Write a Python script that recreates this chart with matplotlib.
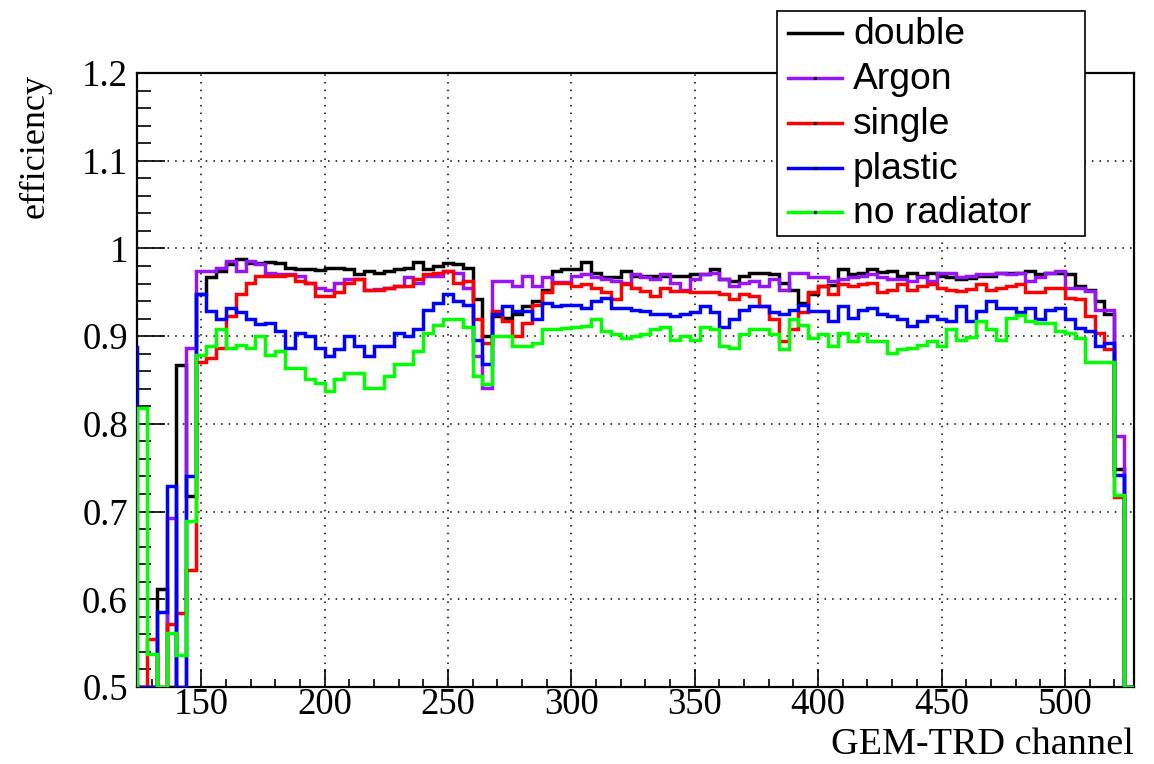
import numpy as np
import matplotlib
matplotlib.use("Agg")
import matplotlib.pyplot as plt
from matplotlib.ticker import MultipleLocator, FuncFormatter
from matplotlib.lines import Line2D
from matplotlib.patches import Rectangle

# bin edges of the GEM-TRD channel histogram (4 channels per bin)
edges = np.arange(120, 529, 4)

labels = ["double", "Argon", "single", "plastic", "no radiator"]
colors = ["#000000", "#9614f5", "#ff0000", "#0000ff", "#00ff00"]

double = [0.5,
    0.5, 0.5, 0.612, 0.5, 0.867, 0.718, 0.948, 0.967, 0.974, 0.982,
    0.988, 0.983, 0.983, 0.984, 0.983, 0.978, 0.977, 0.977, 0.975, 0.978,
    0.978, 0.976, 0.971, 0.974, 0.972, 0.974, 0.976, 0.978, 0.984, 0.976,
    0.980, 0.983, 0.982, 0.978, 0.942, 0.900, 0.923, 0.921, 0.925, 0.934,
    0.940, 0.953, 0.974, 0.977, 0.977, 0.985, 0.972, 0.967, 0.967, 0.974,
    0.968, 0.968, 0.968, 0.968, 0.969, 0.969, 0.971, 0.971, 0.977, 0.965,
    0.963, 0.969, 0.972, 0.972, 0.971, 0.961, 0.953, 0.938, 0.948, 0.957,
    0.958, 0.976, 0.971, 0.972, 0.976, 0.973, 0.974, 0.969, 0.972, 0.969,
    0.972, 0.969, 0.967, 0.965, 0.966, 0.969, 0.969, 0.972, 0.972, 0.972,
    0.974, 0.971, 0.972, 0.972, 0.971, 0.957, 0.953, 0.940, 0.925, 0.748,
    0.5]

argon = [0.5,
    0.5, 0.5, 0.5, 0.693, 0.5, 0.887, 0.974, 0.974, 0.978, 0.986,
    0.974, 0.986, 0.982, 0.972, 0.971, 0.971, 0.968, 0.961, 0.955, 0.953,
    0.961, 0.965, 0.965, 0.953, 0.954, 0.955, 0.957, 0.967, 0.961, 0.969,
    0.969, 0.974, 0.972, 0.955, 0.877, 0.841, 0.963, 0.963, 0.957, 0.969,
    0.957, 0.967, 0.962, 0.962, 0.969, 0.971, 0.967, 0.965, 0.963, 0.961,
    0.971, 0.967, 0.965, 0.971, 0.961, 0.953, 0.965, 0.971, 0.972, 0.965,
    0.957, 0.961, 0.963, 0.957, 0.965, 0.953, 0.972, 0.972, 0.967, 0.967,
    0.963, 0.965, 0.967, 0.969, 0.971, 0.967, 0.965, 0.965, 0.963, 0.967,
    0.963, 0.972, 0.972, 0.967, 0.968, 0.971, 0.971, 0.972, 0.971, 0.972,
    0.963, 0.967, 0.972, 0.974, 0.955, 0.955, 0.951, 0.930, 0.930, 0.786,
    0.5]

single = [0.5,
    0.5, 0.555, 0.5, 0.572, 0.584, 0.633, 0.870, 0.875, 0.887, 0.923,
    0.948, 0.961, 0.968, 0.968, 0.968, 0.970, 0.963, 0.961, 0.946, 0.946,
    0.950, 0.961, 0.965, 0.953, 0.953, 0.955, 0.957, 0.957, 0.965, 0.971,
    0.972, 0.974, 0.961, 0.963, 0.919, 0.892, 0.929, 0.917, 0.900, 0.915,
    0.936, 0.950, 0.961, 0.961, 0.957, 0.959, 0.955, 0.950, 0.942, 0.959,
    0.955, 0.951, 0.946, 0.955, 0.951, 0.951, 0.950, 0.950, 0.950, 0.948,
    0.942, 0.948, 0.946, 0.934, 0.919, 0.894, 0.908, 0.927, 0.950, 0.957,
    0.948, 0.959, 0.957, 0.959, 0.961, 0.950, 0.953, 0.959, 0.953, 0.957,
    0.959, 0.955, 0.953, 0.952, 0.954, 0.959, 0.953, 0.955, 0.957, 0.959,
    0.950, 0.950, 0.955, 0.955, 0.944, 0.942, 0.923, 0.904, 0.885, 0.717,
    0.5]

plastic = [0.888,
    0.5, 0.5, 0.585, 0.729, 0.5, 0.740, 0.948, 0.929, 0.919, 0.932,
    0.927, 0.919, 0.914, 0.915, 0.906, 0.887, 0.904, 0.900, 0.887, 0.877,
    0.885, 0.900, 0.889, 0.877, 0.889, 0.889, 0.904, 0.900, 0.908, 0.930,
    0.938, 0.948, 0.940, 0.936, 0.896, 0.868, 0.925, 0.934, 0.929, 0.929,
    0.919, 0.938, 0.934, 0.936, 0.936, 0.932, 0.940, 0.944, 0.932, 0.932,
    0.930, 0.929, 0.925, 0.925, 0.923, 0.925, 0.927, 0.934, 0.927, 0.910,
    0.919, 0.930, 0.934, 0.934, 0.927, 0.925, 0.930, 0.936, 0.929, 0.929,
    0.917, 0.934, 0.921, 0.930, 0.932, 0.925, 0.923, 0.919, 0.911, 0.917,
    0.923, 0.919, 0.917, 0.934, 0.917, 0.929, 0.940, 0.932, 0.932, 0.927,
    0.932, 0.919, 0.930, 0.932, 0.919, 0.909, 0.906, 0.889, 0.892, 0.742,
    0.5]

no_radiator = [0.5,
    0.818, 0.538, 0.5, 0.562, 0.536, 0.689, 0.879, 0.889, 0.908, 0.887,
    0.890, 0.887, 0.900, 0.879, 0.883, 0.864, 0.864, 0.851, 0.847, 0.837,
    0.851, 0.858, 0.858, 0.841, 0.841, 0.854, 0.868, 0.868, 0.883, 0.904,
    0.913, 0.919, 0.919, 0.910, 0.854, 0.845, 0.900, 0.900, 0.889, 0.889,
    0.892, 0.908, 0.908, 0.909, 0.910, 0.911, 0.919, 0.906, 0.902, 0.898,
    0.900, 0.902, 0.908, 0.910, 0.896, 0.900, 0.896, 0.910, 0.908, 0.889,
    0.887, 0.902, 0.908, 0.908, 0.902, 0.885, 0.919, 0.913, 0.898, 0.902,
    0.889, 0.904, 0.894, 0.902, 0.894, 0.894, 0.881, 0.885, 0.887, 0.890,
    0.894, 0.889, 0.908, 0.896, 0.899, 0.917, 0.908, 0.896, 0.921, 0.924,
    0.917, 0.915, 0.915, 0.906, 0.904, 0.898, 0.871, 0.871, 0.870, 0.719,
    0.5]

series = [double, argon, single, plastic, no_radiator]

W, H = 1154, 764
fig = plt.figure(figsize=(W / 100, H / 100), dpi=100)
ax = fig.add_axes([137 / W, 1 - 687 / H, (1134 - 137) / W, (687 - 73) / H])

LW = 2.5
for vals, col in zip(series, colors):
    assert len(vals) == len(edges) - 1
    ax.stairs(vals, edges, color=col, linewidth=LW, baseline=None, zorder=3)

ax.set_xlim(124, 528)
ax.set_ylim(0.5, 1.2)

ax.xaxis.set_major_locator(MultipleLocator(50))
ax.xaxis.set_minor_locator(MultipleLocator(10))
ax.yaxis.set_major_locator(MultipleLocator(0.1))
ax.yaxis.set_minor_locator(MultipleLocator(0.02))
ax.tick_params(which="both", direction="in", top=False, right=False, color="black")
ax.tick_params(axis="x", which="major", length=13, width=1.2, pad=0.5)
ax.tick_params(axis="x", which="minor", length=6, width=1.2)
ax.tick_params(axis="y", which="major", length=20, width=1.2, pad=6.5)
ax.tick_params(axis="y", which="minor", length=10, width=1.2)
ax.yaxis.set_major_formatter(FuncFormatter(
    lambda v, p: "1" if abs(v - 1) < 1e-9 else "%.1f" % v))

serif = "Liberation Serif"
for lab in ax.get_xticklabels() + ax.get_yticklabels():
    lab.set_family(serif)
    lab.set_fontsize(26.5)

ax.grid(True, which="major", color="black", linestyle=(0, (1, 4)), linewidth=1.1, zorder=1)
ax.set_axisbelow(True)
for sp in ax.spines.values():
    sp.set_linewidth(1.6)
    sp.set_zorder(2)

fig.text(35 / W, 1 - 74 / H, "efficiency", rotation=90, ha="center", va="top",
         family=serif, fontsize=26)
fig.text(1134 / W, 1 - 745 / H, "GEM-TRD channel", ha="right", va="center",
         family=serif, fontsize=27.5)

# legend drawn in figure pixel coordinates (ROOT-style fixed box)
def fx(px):
    return px / W

def fy(py):
    return 1 - py / H

box = Rectangle((fx(777), fy(236)), fx(1085) - fx(777), fy(11) - fy(236),
                transform=fig.transFigure, facecolor="white", edgecolor="black",
                linewidth=1.2, zorder=10)
fig.patches.append(box)
row_y = [33, 78, 123, 168, 212]
for k, (lab, col, ry) in enumerate(zip(labels, colors, row_y)):
    ln = Line2D([fx(788), fx(815), fx(842)], [fy(ry)] * 3, transform=fig.transFigure,
                color=col, linewidth=LW, zorder=11)
    fig.lines.append(ln)
    if k > 0:
        dot = Line2D([fx(815)], [fy(ry)], transform=fig.transFigure, marker="s",
                     markersize=1.3, color="black", linestyle="none", zorder=12)
        fig.lines.append(dot)
    fig.text(fx(853), fy(ry + 11), lab, ha="left", va="baseline",
             family="Liberation Sans", fontsize=26.8, zorder=12)

fig.savefig("out.png", dpi=100)
